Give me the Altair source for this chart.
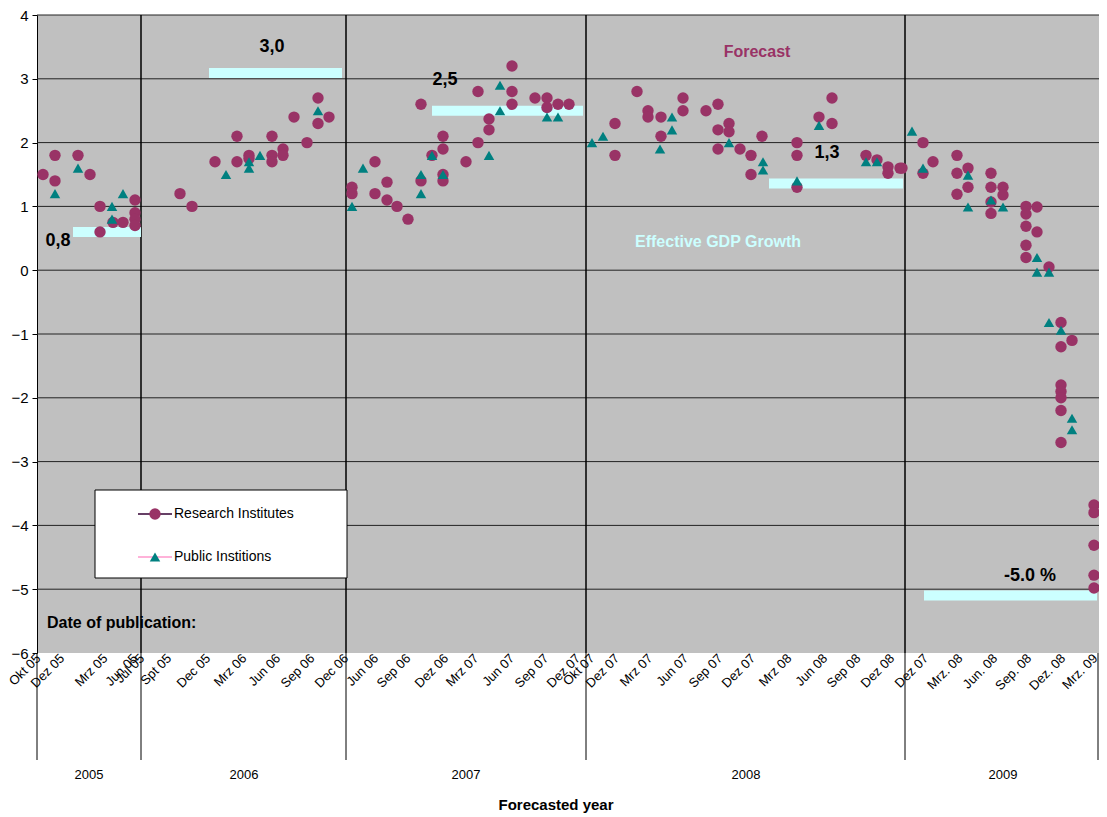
import altair as alt
import pandas as pd

# x = publication position along the time axis, y = forecast GDP growth (%)
research_x = [43, 55, 55, 78, 90, 100, 100, 113, 123, 135, 135, 135, 135,
              180, 192, 215, 237, 237, 249, 249, 272, 272, 272, 283, 283, 294, 307, 318, 318, 329,
              352, 352, 375, 375, 387, 387, 397, 408, 421, 421, 432, 443, 443, 443, 443, 466, 478, 478,
              489, 489, 512, 512, 512, 535, 547, 547, 558, 569,
              615, 615, 637, 648, 648, 661, 661, 683, 683, 706, 718, 718, 718, 729, 729, 740, 751, 751,
              762, 797, 797, 797, 819, 832, 832, 866, 877, 888, 888, 900,
              902, 923, 923, 933, 957, 957, 957, 968, 968, 991, 991, 991, 991, 1003, 1003,
              1026, 1026, 1026, 1026, 1026, 1037, 1037, 1049, 1061, 1061, 1061, 1061, 1061, 1061, 1061,
              1072, 1094, 1094, 1094, 1094, 1094]
research_y = [1.5, 1.8, 1.4, 1.8, 1.5, 1.0, 0.6, 0.75, 0.75, 1.1, 0.9, 0.8, 0.7,
              1.2, 1.0, 1.7, 2.1, 1.7, 1.8, 1.75, 2.1, 1.8, 1.7, 1.9, 1.8, 2.4, 2.0, 2.7, 2.3, 2.4,
              1.3, 1.2, 1.7, 1.2, 1.38, 1.1, 1.0, 0.8, 2.6, 1.4, 1.8, 2.1, 1.9, 1.5, 1.4, 1.7, 2.8, 2.0,
              2.37, 2.2, 3.2, 2.8, 2.6, 2.7, 2.7, 2.55, 2.6, 2.6,
              2.3, 1.8, 2.8, 2.5, 2.4, 2.4, 2.1, 2.7, 2.5, 2.5, 2.6, 2.2, 1.9, 2.3, 2.17, 1.9, 1.8, 1.5,
              2.1, 2.0, 1.8, 1.3, 2.4, 2.7, 2.3, 1.8, 1.73, 1.62, 1.52, 1.6,
              1.6, 2.0, 1.52, 1.7, 1.8, 1.52, 1.19, 1.6, 1.3, 1.52, 1.3, 1.07, 0.89, 1.3, 1.18,
              1.0, 0.88, 0.69, 0.39, 0.2, 0.99, 0.6, 0.05, -0.82, -1.2, -1.8, -1.9, -2.0, -2.2, -2.7,
              -1.1, -3.68, -3.8, -4.31, -4.78, -4.98]

public_x = [55, 78, 112, 112, 123,
            226, 249, 249, 260, 318,
            352, 363, 421, 421, 432, 443, 489, 500, 500, 547, 558,
            592, 603, 660, 672, 672, 729, 763, 763, 797, 819, 866, 877,
            912, 923, 968, 968, 991, 1003, 1037, 1037, 1049, 1049, 1061, 1072, 1072]
public_y = [1.2, 1.6, 1.0, 0.8, 1.2,
            1.5, 1.7, 1.6, 1.8, 2.5,
            1.0, 1.6, 1.5, 1.2, 1.8, 1.5, 1.8, 2.9, 2.5, 2.4, 2.4,
            2.0, 2.1, 1.9, 2.4, 2.2, 2.0, 1.7, 1.57, 1.4, 2.27, 1.7, 1.7,
            2.18, 1.6, 1.49, 0.99, 1.1, 0.99, 0.2, -0.03, -0.03, -0.82, -0.94, -2.32, -2.5]

# effective GDP growth per year
gdp_start = [73, 209, 432, 769, 924]
gdp_end = [141, 342, 583, 903, 1097]
gdp_value = [0.6, 3.09, 2.5, 1.36, -5.1]
gdp_label = ["0,8", "3,0", "2,5", "1,3", "-5.0 %"]
gdp_label_x = [58, 272, 445, 827, 1030]
gdp_label_y = [0.45, 3.5, 2.98, 1.83, -4.8]

tick_x = [37, 61, 104, 134, 141, 168, 207, 243, 277, 311, 345, 375, 407, 445, 475, 511, 545,
          577, 591, 616, 649, 685, 719, 752, 788, 824, 857, 891, 925, 959, 994, 1028, 1062, 1094]
tick_text = ["Okt 05", "Dez 05", "Mrz 05", "Jun 05", "Jul 05", "Spt 05", "Dec 05", "Mrz 06",
             "Jun 06", "Sep 06", "Dec 06", "Jun 06", "Sep 06", "Dez 06", "Mrz 07", "Jun 07",
             "Sep 07", "Dez 07", "Okt 07", "Dez 07", "Mrz 07", "Jun 07", "Sep 07", "Dez 07",
             "Mrz 08", "Jun 08", "Sep 08", "Dez 08", "Dez 07", "Mrz. 08", "Jun. 08", "Sep. 08",
             "Dez. 08", "Mrz. 09"]

year_sep = [141, 346, 586, 905]
year_low_sep = [37, 141, 346, 586, 905, 1098]
years = ["2005", "2006", "2007", "2008", "2009"]
year_x = [89, 244, 466, 746, 1003]

FONT = "Liberation Sans"
X = alt.X("x:Q", scale=alt.Scale(domain=[37, 1099]), axis=None)
Y = alt.Y("y:Q", scale=alt.Scale(domain=[-6, 4], nice=False),
          axis=alt.Axis(values=list(range(-6, 5)), grid=False, title=None, labelFontSize=15,
                        labelFont=FONT, labelColor="black", domainColor="black",
                        tickColor="black", tickSize=5, labelPadding=4))

grid = alt.Chart(pd.DataFrame({"y": list(range(-5, 5))})).mark_rule(
    color="#222", strokeWidth=1).encode(y=Y)

sep = alt.Chart(pd.DataFrame({"x": year_sep})).mark_rule(color="black", strokeWidth=1.5).encode(
    x=X, y=alt.value(0), y2=alt.value(638))
low = alt.Chart(pd.DataFrame({"x": year_low_sep})).mark_rule(color="black", strokeWidth=1).encode(
    x=X, y=alt.value(638), y2=alt.value(745))

gdp = alt.Chart(pd.DataFrame({"x": gdp_start, "x2": gdp_end, "y": gdp_value})).mark_rule(
    color="#CCFFFF", strokeWidth=10).encode(x=X, x2="x2:Q", y=Y)

gdp_text = alt.Chart(pd.DataFrame({"x": gdp_label_x, "y": gdp_label_y, "t": gdp_label})).mark_text(
    font=FONT, fontSize=18, fontWeight="bold", color="black").encode(x=X, y=Y, text="t:N")

res = alt.Chart(pd.DataFrame({"x": research_x, "y": research_y})).mark_point(
    shape="circle", filled=True, opacity=1, size=130, color="#993366").encode(x=X, y=Y)
pub = alt.Chart(pd.DataFrame({"x": public_x, "y": public_y})).mark_point(
    shape="triangle-up", filled=True, opacity=1, size=110, color="#008080").encode(x=X, y=Y)

ticks = alt.Chart(pd.DataFrame({"x": tick_x, "t": tick_text})).mark_text(
    font=FONT, fontSize=13, angle=315, align="right", baseline="middle", dx=0, dy=2).encode(
    x=X, y=alt.value(640), text="t:N")
year_text = alt.Chart(pd.DataFrame({"x": year_x, "t": years})).mark_text(
    font=FONT, fontSize=13).encode(x=X, y=alt.value(760), text="t:N")

notes = pd.DataFrame({
    "x": [757, 718, 47, 556],
    "py": [37, 227, 608, 790],
    "t": ["Forecast", "Effective GDP Growth", "Date of publication:", "Forecasted year"],
    "c": ["#993366", "#CCFFFF", "black", "black"],
    "a": ["center", "center", "left", "center"],
})
note_layers = [
    alt.Chart(notes.iloc[[i]]).mark_text(
        font=FONT, fontSize=16 if i < 3 else 15, fontWeight="bold", color=notes.c[i],
        align=notes.a[i]).encode(x=X, y=alt.value(int(notes.py[i])), text="t:N")
    for i in range(4)
]

# legend box
box = alt.Chart(pd.DataFrame({"x": [95], "x2": [347]})).mark_rect(
    fill="white", stroke="black", strokeWidth=1).encode(
    x=X, x2="x2:Q", y=alt.value(475), y2=alt.value(563))
leg_lines = alt.Chart(pd.DataFrame({"x": [138, 138], "x2": [172, 172], "py": [499, 542],
                                    "c": ["#330033", "#FF99CC"]})).mark_rule(strokeWidth=1.5).encode(
    x=X, x2="x2:Q", y=alt.Y("py:Q", scale=None), color=alt.Color("c:N", scale=None))
leg_res = alt.Chart(pd.DataFrame({"x": [155]})).mark_point(
    shape="circle", filled=True, opacity=1, size=130, color="#993366").encode(x=X, y=alt.value(499))
leg_pub = alt.Chart(pd.DataFrame({"x": [155]})).mark_point(
    shape="triangle-up", filled=True, opacity=1, size=110, color="#008080").encode(x=X, y=alt.value(542))
leg_text = alt.Chart(pd.DataFrame({"x": [174, 174], "py": [499, 542],
                                   "t": ["Research Institutes", "Public Institions"]})).mark_text(
    font=FONT, fontSize=14, align="left").encode(x=X, y=alt.Y("py:Q", scale=None), text="t:N")

chart = alt.layer(
    grid, sep, low, gdp, gdp_text, res, pub, ticks, year_text, *note_layers,
    box, leg_lines, leg_res, leg_pub, leg_text,
).properties(
    width=1062, height=638, autosize="none",
    padding={"left": 29, "top": 7, "right": 0, "bottom": 160},
).configure_view(fill="#C0C0C0", stroke=None)

chart.save("out.html", embed_options={"renderer": "svg", "actions": False})
